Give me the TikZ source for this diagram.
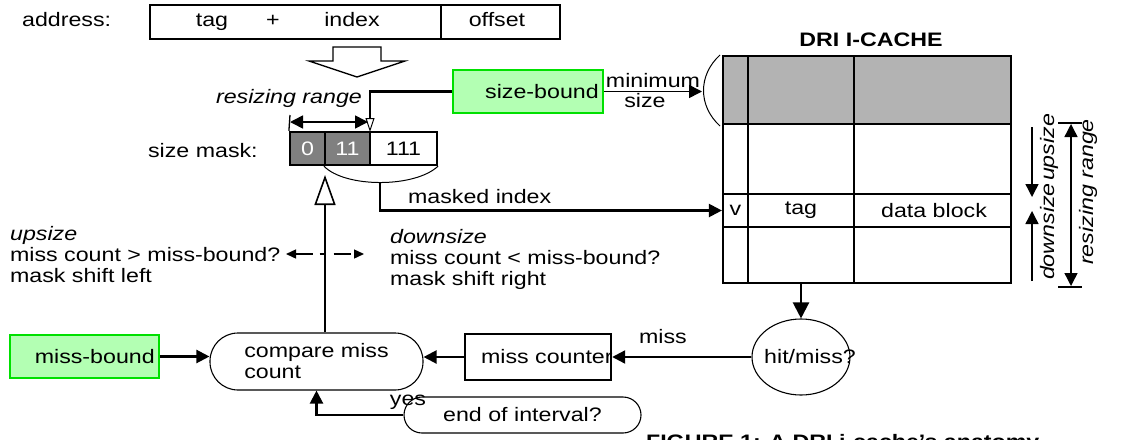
\documentclass[tikz,border=0pt]{standalone}
\usepackage{fontspec}
\setmainfont[FakeStretch=1.19]{Liberation Sans}
\usetikzlibrary{arrows.meta,shapes.geometric,calc}
\definecolor{gfill}{HTML}{B3FFB3}
\definecolor{gline}{HTML}{00E000}
\definecolor{dgray}{HTML}{808080}
\definecolor{lgray}{HTML}{B3B3B3}
\begin{document}
\begin{tikzpicture}[x=1pt,y=-1pt,
  font=\fontsize{19.5}{21}\selectfont,
  line width=2.2pt,
  >={Triangle[length=13pt,width=13pt]},
  box/.style={draw, inner sep=0pt, line width=2.2pt},
  greenbox/.style={draw=gline, fill=gfill, line width=2.2pt, inner sep=4pt, align=right},
  pill/.style={draw, line width=1.1pt, inner sep=0pt},
  thinline/.style={line width=1pt},
  lbl/.style={inner sep=0pt, anchor=base west},
  ctr/.style={inner sep=0pt, anchor=base},
  cell/.style={inner sep=0pt},
]
\useasboundingbox (0,0) rectangle (1140,439);

% address
\node[lbl] (addrlbl) at (21,27) {address:};
\node[box, minimum width=291, minimum height=34] (addrA) at (295.5,22) {};
\node[box, minimum width=119, minimum height=34] (addrB) at (500.5,22) {};
\node[ctr] (ttag) at (212,27) {tag};
\node[ctr] (tplus) at (273,27) {+};
\node[ctr] (tidx) at (352,27) {index};
\node[ctr] (toff) at (497,27) {offset};

% wide hollow arrow
\draw[line width=1.3pt] (333,47) -- (381,47) -- (381,61) -- (405,61) -- (357,77) -- (309,61) -- (333,61) -- cycle;

% resizing range over mask
\node[lbl] (rrlbl) at (215,103) {\itshape resizing range};
\node[lbl] (smlbl) at (147,157) {size mask:};
\node[box, fill=dgray, text=white, minimum width=35, minimum height=33] (m0) at (307.5,148.5) {0};
\node[box, fill=dgray, text=white, minimum width=45, minimum height=33] (m1) at (347.5,148.5) {11};
\node[box, minimum width=67, minimum height=33] (m2) at (403.5,148.5) {111};
\coordinate (rrL) at (290,122);
\coordinate (rrR) at (368,122);
\draw[<->, line width=1.6pt] (rrL) -- (rrR);
\coordinate (tickT) at (290,115);
\draw[line width=1.3pt] (tickT) -- (m0.north west);

% size-bound
\node[greenbox, text width=141.5pt, minimum height=43] (sb) at (528,91.5) {size-bound};
\coordinate (sbcorner) at (370,91.5);
\coordinate (sbtip) at (370,132);
\draw[-{Triangle[open,length=14pt,width=9pt,line width=1pt]}] (sb.west) -- (sbcorner) -- (sbtip);
\coordinate (bracetip) at (702,91.5);
\draw[->, line width=1.6pt] (sb.east) -- (bracetip);
\node[ctr] (minlbl) at (653,87) {minimum};
\node[ctr] (sizelbl) at (645,107) {size};
\draw[thinline] (720,55) .. controls (698,75) and (698,106) .. (720,126);

% cache
\node[font=\fontsize{19.5}{21}\selectfont\bfseries, ctr] (title) at (871,46.5) {DRI I-CACHE};
\fill[lgray] (723,56) rectangle (1011,124);
\node[box, minimum width=288, minimum height=227] (cache) at (867,169.5) {};
\draw (723,124) -- (1011,124);
\draw (723,194) -- (1011,194);
\draw (723,227) -- (1011,227);
\draw (748,56) -- (748,283);
\draw (854,56) -- (854,283);
\node[cell, minimum width=25, minimum height=33] (vcell) at (735.5,210.5) {v};
\node[cell, minimum width=106, minimum height=33] (tagcell) at (801,210.5) {tag};
\node[cell, minimum width=157, minimum height=33] (datacell) at (934,210.5) {data block};

% right side annotations
\coordinate (dsA) at (1032,127);
\coordinate (dsB) at (1032,197);
\coordinate (usA) at (1032,281);
\coordinate (usB) at (1032,211);
\draw[->, line width=1.4pt] (dsA) -- (dsB);
\draw[->, line width=1.4pt] (usA) -- (usB);
\node[rotate=90, lbl] (dnlbl) at (1054,281) {\itshape downsize};
\node[rotate=90, lbl] (uplbl) at (dnlbl.base east) {\itshape upsize};
\draw[line width=1.4pt] (1058,123) -- (1082,123);
\draw[line width=1.4pt] (1058,287) -- (1082,287);
\coordinate (rA) at (1071,124);
\coordinate (rB) at (1071,286);
\draw[<->, line width=1.4pt] (rA) -- (rB);
\node[rotate=90, ctr] (rrlbl2) at (1093,192) {\itshape resizing range};

% masked index
\draw[thinline] (m1.south west) .. controls (345,188) and (415,188) .. (m2.south east);
\coordinate (arcB) at (380,182.5);
\draw[->] (arcB) |- (vcell.west);
\node[lbl] (milbl) at (407,203) {masked index};

% compare
\node[pill, rounded corners=28pt, minimum width=213, minimum height=57, align=left] (cmp) at (316.5,361.5) {compare miss\\count};
\coordinate (cmptip) at (325,175);
\draw[-{Triangle[open,length=30pt,width=21pt,line width=1.6pt]}] (cmp.north -| cmptip) -- (cmptip);

% up/down text
\node[lbl] (up1) at (9,240) {\itshape upsize};
\node[lbl] (up2) at (9,261) {miss count > miss-bound?};
\node[lbl] (up3) at (9,282) {mask shift left};
\node[lbl] (dn1) at (389,243) {\itshape downsize};
\node[lbl] (dn2) at (389,264) {miss count < miss-bound?};
\node[lbl] (dn3) at (389,285) {mask shift right};
\coordinate (dL) at (286,254);
\coordinate (dR) at (364,254);
\draw[{Triangle[length=10pt,width=9pt]}-{Triangle[length=10pt,width=9pt]}, line width=1.4pt, dash pattern=on 17pt off 7pt on 5pt off 9pt] (dL) -- (dR);

% bottom row
\node[greenbox, text width=140.5pt, minimum height=43] (mb) at (84.5,356.5) {miss-bound};
\draw[->] (mb.east) -- (mb.east -| cmp.west);
\node[box, minimum width=146, minimum height=46, anchor=west] (mc) at (464,357) {\makebox[114pt][l]{miss counter}};
\draw[->] (mc.west) -- (mc.west -| cmp.east);
\node[draw, ellipse, minimum width=98, minimum height=76, inner sep=0pt, line width=1.1pt] (hm) at (801,357) {\makebox[0pt]{\hspace{18pt}hit/miss?}};
\draw[-{Triangle[length=16pt,width=16pt]}] (cache.south -| hm.north) -- (hm.north);
\draw[->] (hm.west) -- (mc.east);
\node[ctr] (misslbl) at (663,343) {miss};
\node[pill, rounded corners=18pt, minimum width=237, minimum height=36] (eoi) at (522.5,415) {end of interval?};
\draw[->] (eoi.west) -| (cmp.south);
\node[ctr] (yeslbl) at (408,405) {yes};

% caption (cut off at the bottom edge, as in the reference)
\node[lbl, font=\fontsize{19.5}{21}\selectfont\bfseries] (cap) at (645,448) {FIGURE 1: A DRI i-cache's anatomy.};
\end{tikzpicture}
\end{document}
